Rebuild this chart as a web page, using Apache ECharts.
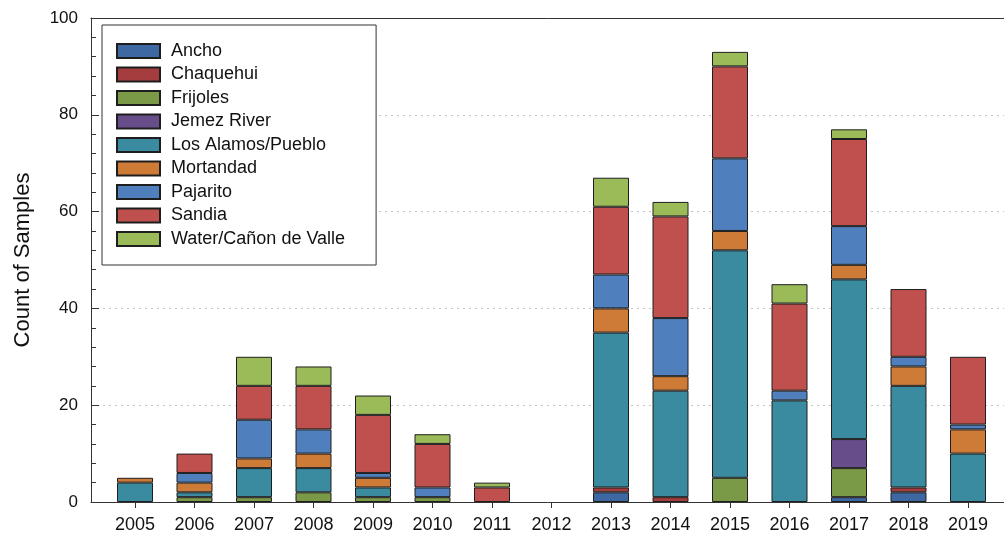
<!DOCTYPE html>
<html>
<head>
<meta charset="utf-8">
<script src="https://cdn.jsdelivr.net/npm/echarts@6/dist/echarts.min.js"></script>
<style>
  html, body { margin: 0; padding: 0; background: #ffffff; }
  #chart { width: 1004px; height: 541px; }
</style>
</head>
<body>
<div id="chart"></div>
<script>
// Sampling years (x axis categories)
const years = ['2005', '2006', '2007', '2008', '2009', '2010', '2011', '2012',
               '2013', '2014', '2015', '2016', '2017', '2018', '2019'];

// Watershed names, in stacking order (bottom to top)
const siteNames = ['Ancho', 'Chaquehui', 'Frijoles', 'Jemez River', 'Los Alamos/Pueblo',
                   'Mortandad', 'Pajarito', 'Sandia', 'Water/Cañon de Valle'];

// Sample counts per year for each watershed
const ancho      = [0, 0, 0, 0, 0, 0, 0, 0, 2, 0, 0, 0, 1, 2, 0];
const chaquehui  = [0, 0, 0, 0, 0, 0, 0, 0, 1, 1, 0, 0, 0, 1, 0];
const frijoles   = [0, 1, 1, 2, 1, 1, 0, 0, 0, 0, 5, 0, 6, 0, 0];
const jemezRiver = [0, 0, 0, 0, 0, 0, 0, 0, 0, 0, 0, 0, 6, 0, 0];
const losAlamos  = [4, 1, 6, 5, 2, 0, 0, 0, 32, 22, 47, 21, 33, 21, 10];
const mortandad  = [1, 2, 2, 3, 2, 0, 0, 0, 5, 3, 4, 0, 3, 4, 5];
const pajarito   = [0, 2, 8, 5, 1, 2, 0, 0, 7, 12, 15, 2, 8, 2, 1];
const sandia     = [0, 4, 7, 9, 12, 9, 3, 0, 14, 21, 19, 18, 18, 14, 14];
const waterValle = [0, 0, 6, 4, 4, 2, 1, 0, 6, 3, 3, 4, 2, 0, 0];

// y axis tick values
const yTicks = [0, 20, 40, 60, 80, 100];

const siteValues = [ancho, chaquehui, frijoles, jemezRiver, losAlamos,
                    mortandad, pajarito, sandia, waterValle];

const siteColors = ['#3d68a2', '#a53c3d', '#7a9a48', '#684d8b', '#3a8aa0',
                    '#cf7b38', '#4f80bd', '#c0504d', '#9bbb59'];

const FONT = '"Liberation Sans", Arial, Helvetica, sans-serif';
const TEXT = '#111111';
const FRAME = { show: true, lineStyle: { color: '#333333', width: 1 } };

const series = siteNames.map((name, i) => ({
  name: name,
  type: 'bar',
  stack: 'samples',
  xAxisIndex: 0,
  yAxisIndex: 0,
  barWidth: 36,
  itemStyle: { color: siteColors[i], borderColor: '#1e1e1e', borderWidth: 1 },
  emphasis: { disabled: true },
  // empty segments are left out so they draw no outline
  data: siteValues[i].map(v => (v === 0 ? '-' : v))
}));

// frame axis: only its line is drawn
function frameXAxis(position) {
  return {
    type: 'value', gridIndex: 1, position: position, min: 0, max: 1,
    axisLine: FRAME, axisTick: { show: false }, axisLabel: { show: false },
    splitLine: { show: false }
  };
}

const option = {
  animation: false,
  backgroundColor: '#ffffff',
  textStyle: { fontFamily: FONT, color: TEXT },
  grid: [
    // bars: one band per year
    { left: 105.25, right: 6.25, top: 18, bottom: 39 },
    // plot frame and dotted gridlines
    { left: 91, right: 0, top: 18, bottom: 39 }
  ],
  legend: {
    orient: 'vertical',
    left: 102,
    top: 25,
    data: siteNames,
    itemWidth: 43,
    itemHeight: 14,
    itemGap: 5.5,
    padding: [17, 31, 17, 14],
    backgroundColor: '#ffffff',
    borderColor: '#333333',
    borderWidth: 1,
    borderRadius: 0,
    icon: 'rect',
    selectedMode: false,
    z: 10,
    textStyle: { fontFamily: FONT, fontSize: 18, color: TEXT, lineHeight: 16, padding: [0, 0, 0, 6] }
  },
  xAxis: [
    {
      type: 'category',
      gridIndex: 0,
      data: years,
      axisLine: { show: false },
      axisTick: { show: true, alignWithLabel: true, inside: false, length: 6,
                  lineStyle: { color: '#333333', width: 1 } },
      axisLabel: { fontFamily: FONT, fontSize: 18, color: TEXT, margin: 14 },
      splitLine: { show: false }
    },
    frameXAxis('bottom'),
    frameXAxis('top')
  ],
  yAxis: [
    {
      type: 'value',
      gridIndex: 0,
      min: yTicks[0],
      max: yTicks[yTicks.length - 1],
      interval: 20,
      offset: 14.25,
      name: 'Count of Samples',
      nameLocation: 'middle',
      nameGap: 57,
      nameTextStyle: { fontFamily: FONT, fontSize: 22, color: TEXT },
      axisLine: { show: false },
      axisTick: { show: true, inside: true, length: 8, lineStyle: { color: '#333333' } },
      minorTick: { show: true, splitNumber: 5, length: 5, lineStyle: { color: '#333333' } },
      axisLabel: { fontFamily: FONT, fontSize: 17, color: TEXT, margin: 13 },
      splitLine: { show: false }
    },
    {
      type: 'value',
      gridIndex: 1,
      position: 'left',
      min: yTicks[0],
      max: yTicks[yTicks.length - 1],
      interval: 20,
      axisLine: FRAME,
      axisTick: { show: false },
      axisLabel: { show: false },
      splitLine: { show: true, lineStyle: { color: '#c4c4c4', type: [2, 4], width: 1 } }
    }
  ],
  series: series
};

const chart = echarts.init(document.getElementById('chart'), null, { renderer: 'canvas' });
chart.setOption(option);
</script>
</body>
</html>
